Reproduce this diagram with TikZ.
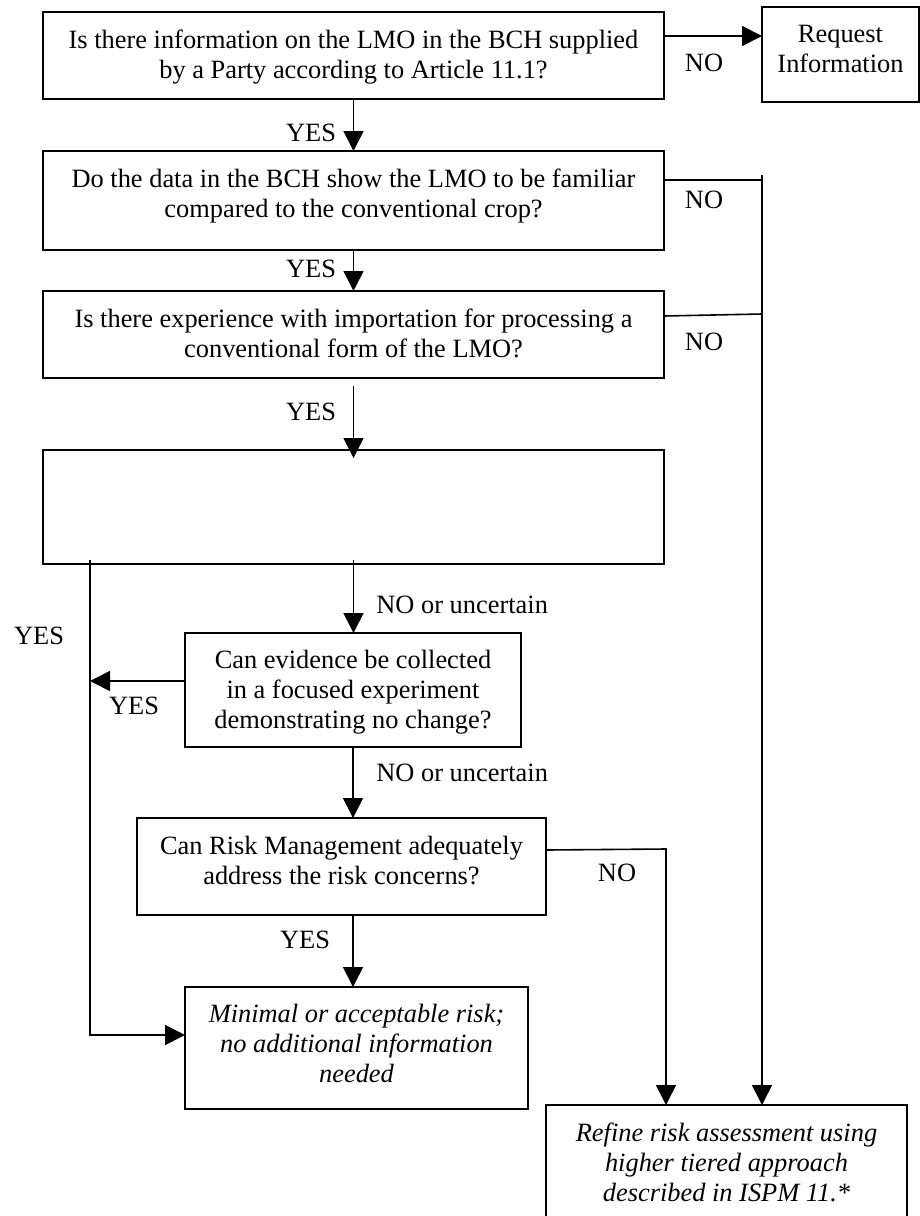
\documentclass[tikz,border=0pt]{standalone}
\usepackage{fontspec}
\setmainfont{Liberation Serif}
\usetikzlibrary{arrows.meta,fit,calc}
\begin{document}
\begin{tikzpicture}[x=0.5pt,y=-0.5pt,
  box/.style={draw, line width=1pt, inner sep=0pt, outer sep=0pt},
  txt/.style={inner sep=0pt, align=center, font=\fontsize{13.2}{15}\selectfont},
  lbl/.style={inner sep=0pt, font=\fontsize{13.2}{15}\selectfont},
  conn/.style={line width=0.8pt},
  arr/.style={conn, -{Triangle[length=10pt,width=10pt]}},
]
\useasboundingbox (0,0) rectangle (920,1216);
\fill[white] (0,0) rectangle (920,1216);
\clip (0,0) rectangle (920,1216);

% boxes
\node[box, fit={(43,12) (664,99)}] (b1) {};
\node[box, fit={(762,7) (919,102)}] (ri) {};
\node[box, fit={(43,151) (664,250)}] (b2) {};
\node[box, fit={(43,291) (664,378)}] (b3) {};
\node[box, fit={(43,450) (664,564)}] (b4) {};
\node[box, fit={(185,633) (521,747)}] (ev) {};
\node[box, fit={(137,818) (546,915)}] (rm) {};
\node[box, fit={(185,987) (528,1109)}] (mn) {};
\node[box, fit={(546,1105) (907,1240)}] (rf) {};

% box texts
\node[txt, anchor=north] (t1) at ([yshift=-9pt]b1.north) {Is there information on the LMO in the BCH supplied\\by a Party according to Article 11.1?};
\node[txt, anchor=north] (tri) at ([yshift=-9pt]ri.north) {Request\\Information};
\node[txt, anchor=north] (t2) at ([yshift=-9pt]b2.north) {Do the data in the BCH show the LMO to be familiar\\compared to the conventional crop?};
\node[txt, anchor=north] (t3) at ([yshift=-9pt]b3.north) {Is there experience with importation for processing a\\conventional form of the LMO?};
\node[txt, anchor=north] (tev) at ([yshift=-8.5pt]ev.north) {Can evidence be collected\\in a focused experiment\\demonstrating no change?};
\node[txt, anchor=north] (trm) at ([yshift=-9pt]rm.north) {Can Risk Management adequately\\address the risk concerns?};
\node[txt, anchor=north, font=\fontsize{13.2}{15}\selectfont\itshape] (tmn) at ([yshift=-8.5pt]mn.north) {Minimal or acceptable risk;\\no additional information\\needed};
\node[txt, anchor=north, font=\fontsize{13.2}{15}\selectfont\itshape] (trf) at ([yshift=-8.5pt]rf.north) {Refine risk assessment using\\higher tiered approach\\described in ISPM 11.*};

% helper coordinates
\coordinate (rv) at (762,175);
\coordinate (lv) at (90,560);
\coordinate (nv) at (666,849);

% connectors
\draw[arr] ([yshift=9.75pt]b1.east) -- ([yshift=9.75pt]b1.east -| ri.west);
\draw[arr] (b1.south) -- (b2.north);
\draw[arr] (b2.south) -- (b3.north);
\draw[arr] ([yshift=-4pt]b3.south) -- ([yshift=-4pt]b4.north);
\draw[conn] ([yshift=10.25pt]b2.east) -- ([yshift=10.25pt]b2.east -| rv);
\draw[conn] ([yshift=9.25pt]b3.east) -- ([yshift=10.25pt]b3.east -| rv);
\draw[arr] (rv) -- (rv |- rf.north);
\draw[arr] ([yshift=2pt]b4.south) -- (b4.south |- ev.north);
\draw[arr] (lv) |- ([yshift=6.5pt]mn.west);
\draw[arr] ([yshift=4.5pt]ev.west) -- ([yshift=4.5pt]ev.west -| lv);
\draw[arr] (ev.south) -- (ev.south |- rm.north);
\draw[arr] (ev.south |- rm.south) -- (ev.south |- mn.north);
\draw[arr] ([yshift=8.25pt]rm.east) -- (nv) -- (nv |- rf.north);

% labels
\node[lbl] (no1) at (704,63) {NO};
\node[lbl] (no2) at (704,200) {NO};
\node[lbl] (no3) at (704,342) {NO};
\node[lbl] (no4) at (617,873) {NO};
\node[lbl] (y1) at (311,133) {YES};
\node[lbl] (y2) at (311,269) {YES};
\node[lbl] (y3) at (311,412) {YES};
\node[lbl] (y4) at (39,636) {YES};
\node[lbl] (y5) at (134,706) {YES};
\node[lbl] (y6) at (305,940) {YES};
\node[lbl, anchor=west] (nu1) at (376,605) {NO or uncertain};
\node[lbl, anchor=west] (nu2) at (376,773) {NO or uncertain};
\end{tikzpicture}
\end{document}
